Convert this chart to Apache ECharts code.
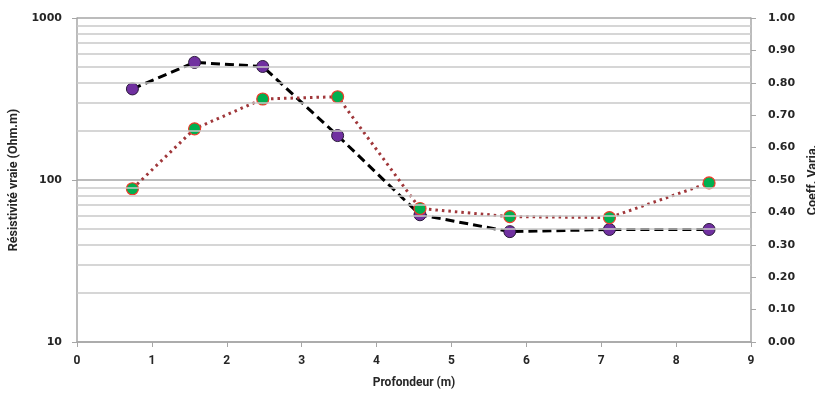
<!DOCTYPE html>
<html>
<head>
<meta charset="utf-8">
<script src="https://cdn.jsdelivr.net/npm/echarts@6/dist/echarts.min.js"></script>
<style>html,body{margin:0;padding:0;background:#fff;}#c{width:815px;height:394px;}</style>
</head>
<body>
<div id="c"></div>
<script>
var depth = [0.74, 1.57, 2.48, 3.48, 4.58, 5.78, 7.11, 8.44];
var resistivity = [365, 532, 502, 188, 61, 48, 49.5, 49.5];
var coeffVar = [0.473, 0.658, 0.750, 0.757, 0.412, 0.387, 0.384, 0.491];
var minorGridValues = [20, 30, 40, 50, 60, 70, 80, 90, 200, 300, 400, 500, 600, 700, 800, 900];
var xTitle = 'Profondeur (m)';
var yLeftTitle = 'Résistivité vraie (Ohm.m)';
var yRightTitle = 'Coeff. Varia.';

var titleFont = 'Roboto, "Liberation Sans", sans-serif';
var chart = echarts.init(document.getElementById('c'), null, {renderer: 'canvas'});
chart.setOption({
  animation: false,
  backgroundColor: '#ffffff',
  grid: {left: 77, right: 64, top: 18, bottom: 52, containLabel: false, outerBoundsMode: 'none'},
  xAxis: {
    type: 'value', min: 0, max: 9, interval: 1,
    name: xTitle, nameLocation: 'middle', nameGap: 35,
    nameTextStyle: {fontFamily: titleFont, fontWeight: 'bold', fontSize: 12, color: '#262626'},
    axisLine: {lineStyle: {color: '#a6a6a6', width: 1.5}},
    axisTick: {show: true, length: 5, lineStyle: {color: '#a6a6a6'}},
    axisLabel: {fontFamily: titleFont, fontWeight: 'bold', fontSize: 12, color: '#262626', margin: 13},
    splitLine: {show: false}
  },
  yAxis: [{
    type: 'log', logBase: 10, min: 10, max: 1000, splitNumber: 2,
    name: yLeftTitle, nameLocation: 'middle', nameGap: 52, nameRotate: 90,
    nameTextStyle: {fontFamily: titleFont, fontWeight: 'bold', fontSize: 12.5, color: '#262626'},
    axisLine: {show: true, lineStyle: {color: '#a6a6a6', width: 1.5}},
    axisTick: {show: true, length: 5, lineStyle: {color: '#a6a6a6'}},
    axisLabel: {fontFamily: '"DejaVu Sans", sans-serif', fontWeight: 'bold', fontSize: 11, color: '#262626', margin: 15,
      formatter: function (v) { return String(Math.round(v)); }},
    splitLine: {show: true, lineStyle: {color: '#a6a6a6', width: 1.5}}
  }, {
    type: 'value', min: 0, max: 1, interval: 0.1, position: 'right',
    name: yRightTitle, nameLocation: 'middle', nameGap: 54, nameRotate: 90,
    nameTextStyle: {fontFamily: titleFont, fontWeight: 'bold', fontSize: 12.5, color: '#262626'},
    axisLine: {show: true, lineStyle: {color: '#a6a6a6', width: 1.5}},
    axisTick: {show: true, length: 5, lineStyle: {color: '#a6a6a6'}},
    axisLabel: {fontFamily: '"DejaVu Sans", sans-serif', fontWeight: 'bold', fontSize: 11, color: '#262626', margin: 17,
      formatter: function (v) { return v.toFixed(2); }},
    splitLine: {show: false}
  }],
  series: [{
    name: 'Résistivité', type: 'line', yAxisIndex: 0,
    data: depth.map(function (d, i) { return [d, resistivity[i]]; }),
    symbol: 'circle', symbolSize: 12,
    lineStyle: {color: '#000000', width: 3, type: [9, 5], cap: 'butt'},
    itemStyle: {color: '#7030a0', borderColor: '#2a1a3a', borderWidth: 1},
    markLine: {
      silent: true, symbol: 'none', label: {show: false}, animation: false,
      lineStyle: {color: '#c8c8c8', width: 1.5, type: 'solid'},
      data: minorGridValues.map(function (v) { return {yAxis: v}; })
    },
    z: 3
  }, {
    name: 'Coeff. Varia.', type: 'line', yAxisIndex: 1,
    data: depth.map(function (d, i) { return [d, coeffVar[i]]; }),
    symbol: 'circle', symbolSize: 12,
    lineStyle: {color: '#a0373a', width: 3, type: [2.5, 4]},
    itemStyle: {color: '#00b050', borderColor: '#f03a2a', borderWidth: 1.2},
    z: 4
  }]
});
</script>
</body>
</html>
